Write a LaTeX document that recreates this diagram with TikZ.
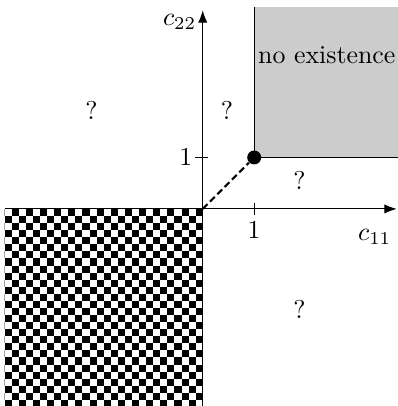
\documentclass[tikz,border=0pt]{standalone}
\usepackage{amsmath,amssymb}
\usepackage{tikz}
\usetikzlibrary{arrows.meta}

\begin{document}
\begin{tikzpicture}[scale=0.7,>=Latex]
\useasboundingbox (-3.94,-3.83) rectangle (3.79,4.06);
% checkerboard in the third quadrant
\begin{scope}
\clip (-3.85,-3.83) rectangle (0,0);
\foreach \i [evaluate=\i as \o using {int(mod(\i,2))}] in {0,...,28}
\foreach \j in {0,...,14}
\fill ({-(\i+1)*0.1375},{-(2*\j+\o+1)*0.1375}) rectangle ++(0.1375,0.1375);
\end{scope}
% gray region
\fill[gray!40](1,1)rectangle(3.79,3.92);
\draw(1,3.92)--(1,1)--(3.79,1);
% axes
\coordinate (xs) at (-3.85,0);
\coordinate (xe) at (3.77,0);
\coordinate (ys) at (0,-3.83);
\coordinate (ye) at (0,3.86);
\draw[->](xs)--(xe);
\draw[->](ys)--(ye);
\draw(1,-0.12)--(1,0.12)
(-0.15,1)--(0.1,1);
\node (onex) at (1,-0.42) {$1$};
\node (oney) at (-0.33,1) {$1$};
\node (cxx) at (3.34,-0.54) {$c_{11}$};
\node (cyy) at (-0.45,3.63) {$c_{22}$};
\node (noex) at (2.41,2.99) {no existence};
\node (qa) at (-2.16,1.92) {?};
\node (qb) at (0.47,1.92) {?};
\node (qc) at (1.88,0.56) {?};
\node (qd) at (1.88,-1.96) {?};
% point (1,1) and dashed segment
\coordinate (O) at (0,0);
\node[circle,fill,inner sep=0pt,minimum size=5.4pt] (P) at (1,1) {};
\draw[thick,dash pattern=on 2.6pt off 1.4pt](O)--(P);
\end{tikzpicture}
\end{document}
